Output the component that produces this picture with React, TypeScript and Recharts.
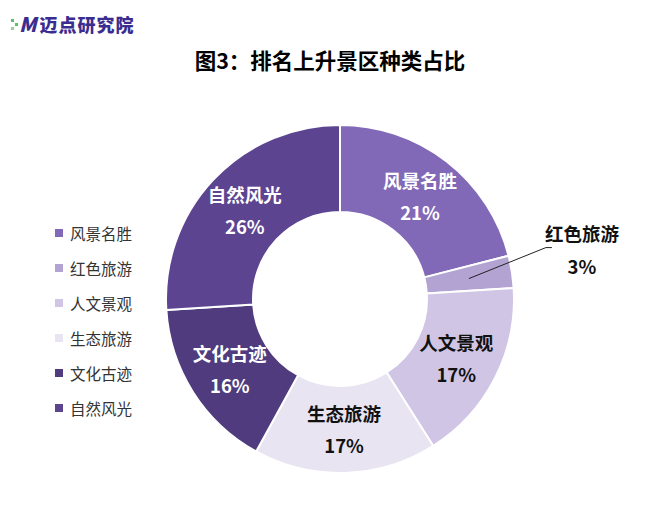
import { PieChart, Pie, Cell } from "recharts";

const categories = ["风景名胜", "红色旅游", "人文景观", "生态旅游", "文化古迹", "自然风光"];
const shares = [21, 3, 17, 17, 16, 26];

const COLORS = ["#8169B7", "#B3A3D3", "#D0C5E4", "#E8E4F2", "#4F3B7D", "#5C4491"];
const LABEL_COLORS = ["#fff", "#111", "#111", "#111", "#fff", "#fff"];
const OUTSIDE = [false, true, false, false, false, false];

const FONT = '"Noto Sans CJK SC", "Noto Sans", sans-serif';
const RAD = Math.PI / 180;

const data = categories.map((name, i) => ({ name, value: shares[i] }));

function renderLabel(props: any) {
  const { cx, cy, midAngle, innerRadius, outerRadius, index, value } = props;
  const r = (innerRadius + outerRadius) / 2;
  const x = cx + r * Math.cos(-midAngle * RAD);
  const y = cy + r * Math.sin(-midAngle * RAD);
  const style = { fontFamily: FONT, fontWeight: 700, fontSize: 18.5 };

  if (OUTSIDE[index]) {
    const ex = x + 77;
    const ey = y - 31;
    return (
      <g>
        <polyline
          points={`${x},${y} ${ex},${ey} ${ex + 6},${ey}`}
          fill="none"
          stroke="#222"
          strokeWidth={1}
        />
        <text x={ex + 36} y={ey - 15} textAnchor="middle" dominantBaseline="central" fill="#111" style={style}>
          {categories[index]}
        </text>
        <text x={ex + 36} y={ey + 18} textAnchor="middle" dominantBaseline="central" fill="#111" style={style}>
          {`${value}%`}
        </text>
      </g>
    );
  }

  return (
    <g>
      <text x={x} y={y - 16} textAnchor="middle" dominantBaseline="central" fill={LABEL_COLORS[index]} style={style}>
        {categories[index]}
      </text>
      <text x={x} y={y + 16} textAnchor="middle" dominantBaseline="central" fill={LABEL_COLORS[index]} style={style}>
        {`${value}%`}
      </text>
    </g>
  );
}

function LegendList() {
  return (
    <div style={{ position: "absolute", left: 55, top: 215, fontFamily: FONT }}>
      {categories.map((name, i) => (
        <div
          key={name}
          style={{ display: "flex", alignItems: "center", height: 35, fontSize: 15.5, color: "#333" }}
        >
          <span style={{ width: 8, height: 8, background: COLORS[i], marginRight: 7, display: "inline-block" }} />
          {name}
        </div>
      ))}
    </div>
  );
}

function Logo() {
  return (
    <div style={{ position: "absolute", left: 10, top: 9, display: "flex", alignItems: "center", fontFamily: FONT }}>
      <svg width={9} height={22}>
        <rect x={1} y={6} width={3} height={3} fill="#5cc26a" />
        <rect x={5} y={10} width={3} height={3} fill="#5cc26a" />
        <rect x={1} y={14} width={3} height={3} fill="#8fd48f" />
      </svg>
      <span style={{ color: "#3b2d8f", fontWeight: 900, fontSize: 20, fontStyle: "italic", marginRight: 3 }}>M</span>
      <span style={{ color: "#3b2d8f", fontWeight: 900, fontSize: 18, letterSpacing: 1 }}>迈点研究院</span>
    </div>
  );
}

export default function App() {
  return (
    <div style={{ position: "absolute", left: 0, top: 0, width: 650, height: 509, background: "#fff" }}>
      <Logo />
      <div
        style={{
          position: "absolute",
          top: 44,
          width: 650,
          textAlign: "center",
          fontFamily: FONT,
          fontWeight: 700,
          fontSize: 21.5,
          color: "#000",
          paddingLeft: 10,
          boxSizing: "border-box",
        }}
      >
        图3：排名上升景区种类占比
      </div>
      <PieChart
        width={650}
        height={509}
        margin={{ top: 0, right: 0, bottom: 0, left: 0 }}
        style={{ position: "absolute", left: 0, top: 0 }}
      >
        <Pie
          data={data}
          dataKey="value"
          nameKey="name"
          cx={340}
          cy={299}
          innerRadius={87}
          outerRadius={174}
          startAngle={90}
          endAngle={-270}
          stroke="#fff"
          strokeWidth={2}
          label={renderLabel}
          labelLine={false}
          isAnimationActive={false}
        >
          {data.map((entry, i) => (
            <Cell key={entry.name} fill={COLORS[i]} />
          ))}
        </Pie>
      </PieChart>
      <LegendList />
    </div>
  );
}
